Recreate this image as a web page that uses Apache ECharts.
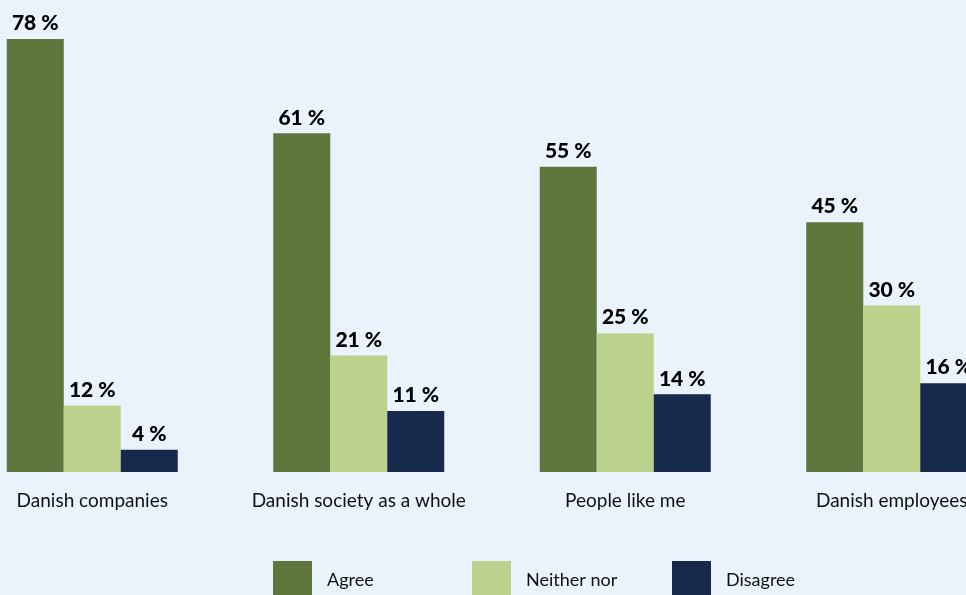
<!DOCTYPE html>
<html>
<head>
<meta charset="utf-8">
<script src="https://cdn.jsdelivr.net/npm/echarts@6/dist/echarts.min.js"></script>
<style>
html,body{margin:0;padding:0;background:#eaf2fc;}
#c{width:966px;height:595px;}
</style>
</head>
<body>
<div id="c"></div>
<script>
const categories = ['Danish companies', 'Danish society as a whole', 'People like me', 'Danish employees'];
const seriesNames = ['Agree', 'Neither nor', 'Disagree'];
const agree = [78, 61, 55, 45];
const neither = [12, 21, 25, 30];
const disagree = [4, 11, 14, 16];
const colors = ['#5e773d', '#bbd28c', '#172a4b'];

const values = [agree, neither, disagree];
const chart = echarts.init(document.getElementById('c'));
const font = 'Lato, "Open Sans", sans-serif';
const legendLefts = [273, 472, 672];

chart.setOption({
  backgroundColor: '#eaf2fc',
  animation: false,
  grid: { left: -41, width: 1066, top: 39, bottom: 123, containLabel: false, outerBoundsMode: 'none' },
  xAxis: {
    type: 'category',
    data: categories,
    axisLine: { show: false },
    axisTick: { show: false },
    axisLabel: { color: '#111', fontFamily: font, fontSize: 19, margin: 19, interval: 0, hideOverlap: false }
  },
  yAxis: {
    type: 'value', min: 0, max: 78,
    show: false,
    splitLine: { show: false }
  },
  legend: seriesNames.map((n, i) => ({
    data: [n],
    left: legendLefts[i],
    top: 561,
    itemWidth: 39,
    itemHeight: 38,
    itemGap: 0,
    padding: 0,
    icon: 'rect',
    selectedMode: false,
    textStyle: { fontFamily: font, fontSize: 18, color: '#111', padding: [2, 0, 0, 10] }
  })),
  series: seriesNames.map((n, i) => ({
    name: n,
    type: 'bar',
    data: values[i],
    barWidth: 57,
    barGap: '0%',
    itemStyle: { color: colors[i] },
    label: {
      show: true,
      position: 'top',
      distance: 5,
      formatter: p => p.value + ' %',
      fontFamily: font,
      fontWeight: 900,
      fontSize: 21,
      color: '#000'
    }
  }))
});
</script>
</body>
</html>
